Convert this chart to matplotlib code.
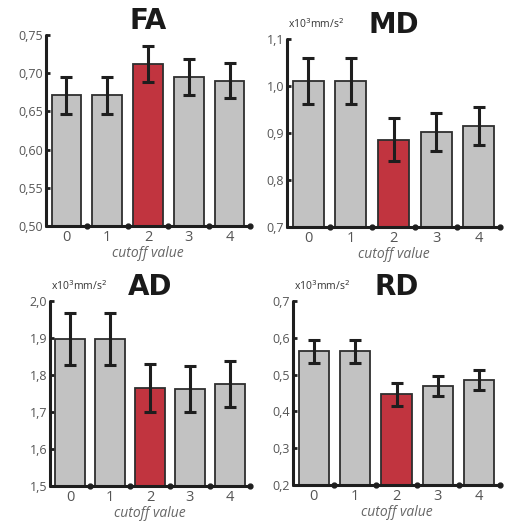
import matplotlib.pyplot as plt
import numpy as np

plt.rcParams['font.family'] = ['Open Sans', 'DejaVu Sans']

cutoffs = ['0', '1', '2', '3', '4']
highlight = 2

fa_mean = [0.671, 0.671, 0.712, 0.695, 0.690]
fa_err = [0.024, 0.024, 0.024, 0.023, 0.023]
md_mean = [1.011, 1.011, 0.886, 0.902, 0.915]
md_err = [0.049, 0.049, 0.045, 0.040, 0.040]
ad_mean = [1.897, 1.897, 1.765, 1.762, 1.776]
ad_err = [0.070, 0.070, 0.065, 0.062, 0.062]
rd_mean = [0.563, 0.563, 0.446, 0.468, 0.485]
rd_err = [0.032, 0.032, 0.030, 0.027, 0.028]

panels = [
    # title, mean, err, yticks, tick fmt, unit, axes rect
    ('FA', fa_mean, fa_err, [0.50, 0.55, 0.60, 0.65, 0.70, 0.75], '{:.2f}', False,
     [46/508, 297/523, 204/508, 191/523]),
    ('MD', md_mean, md_err, [0.7, 0.8, 0.9, 1.0, 1.1], '{:.1f}', True,
     [287/508, 296/523, 213/508, 188/523]),
    ('AD', ad_mean, ad_err, [1.5, 1.6, 1.7, 1.8, 1.9, 2.0], '{:.1f}', True,
     [50/508, 37/523, 200/508, 185/523]),
    ('RD', rd_mean, rd_err, [0.2, 0.3, 0.4, 0.5, 0.6, 0.7], '{:.1f}', True,
     [293/508, 38/523, 207/508, 184/523]),
]

gray = '#c2c2c2'
red = '#c1343f'
dark = '#1e1e1e'

fig = plt.figure(figsize=(5.08, 5.23), dpi=100)

for title, mean, err, yt, fmt, unit, rect in panels:
    ax = fig.add_axes(rect)
    x = np.arange(len(cutoffs))
    colors = [red if i == highlight else gray for i in x]
    ax.bar(x, mean, width=0.73, color=colors, edgecolor='#2e2e2e', linewidth=1.3, zorder=2)
    ax.errorbar(x, mean, yerr=err, fmt='none', ecolor=dark, elinewidth=2.2,
                capsize=4.5, capthick=2.2, zorder=3)
    ax.set_xlim(-0.5, 4.5)
    ax.set_ylim(yt[0], yt[-1])
    ax.set_yticks(yt)
    ax.set_yticklabels([fmt.format(v).replace('.', ',') for v in yt])
    ax.set_xticks(x)
    ax.set_xticklabels(cutoffs)
    for s in ['top', 'right']:
        ax.spines[s].set_visible(False)
    for s in ['left', 'bottom']:
        ax.spines[s].set_linewidth(2.2)
        ax.spines[s].set_color(dark)
        ax.spines[s].set_capstyle('round')
    ax.tick_params(axis='y', direction='in', length=3, width=2, color=dark,
                   labelsize=9, labelcolor='#555555', pad=2)
    ax.tick_params(axis='x', length=0, labelsize=10.5, labelcolor='#555555', pad=3)
    # dots on the x axis between bars
    ax.plot(x + 0.5, [yt[0]] * len(x), 'o', color=dark, markersize=3.5,
            clip_on=False, zorder=4)
    ax.set_xlabel('cutoff value', style='italic', color='#666666', fontsize=10,
                  labelpad=0.5)
    ax.set_title(title, fontsize=20, fontweight='heavy', color='#1a1a1a', pad=4,
                 family=['DejaVu Sans'])
    if unit:
        ax.annotate('x10$^3$mm/s$^2$', xy=(0, 1), xycoords='axes fraction',
                    xytext=(1, 6), textcoords='offset points', fontsize=7.5,
                    color='#333333', ha='left', va='bottom')

fig.savefig('out.png', dpi=100)
